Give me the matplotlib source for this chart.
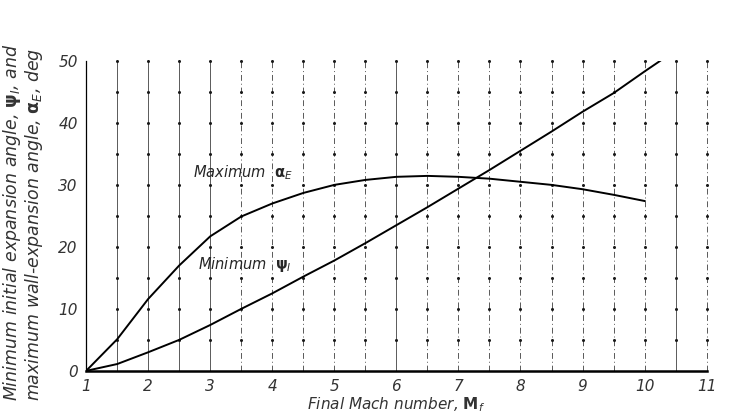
import numpy as np
from matplotlib import pyplot as plt

# Values
mach = [1.0, 1.5, 2.0, 2.5, 3.0, 3.5, 4.0, 4.5, 5.0, 5.5, 6.0, 6.5, 7.0, 7.5, 8.0, 8.5, 9.0, 9.5, 10.0]
alpha_e = [0.0, 5.1, 11.6, 17.0, 21.7, 24.9, 27.0, 28.7, 30.0, 30.8, 31.3, 31.45, 31.3, 31.0, 30.5, 30.0, 29.3, 28.4, 27.4]

mach_psi = [1.0, 1.5, 2.0, 2.5, 3.0, 3.5, 4.0, 4.5, 5.0, 5.5, 6.0, 6.5, 7.0, 7.5, 8.0, 8.5, 9.0, 9.5, 10.0, 10.25]
psi_i = [0.0, 1.1, 3.0, 5.0, 7.4, 10.0, 12.5, 15.2, 17.8, 20.6, 23.5, 26.4, 29.4, 32.4, 35.5, 38.6, 41.8, 44.8, 48.3, 50.0]

x_ticks = [1, 2, 3, 4, 5, 6, 7, 8, 9, 10, 11]
y_ticks = [0, 10, 20, 30, 40, 50]

plt.rcParams["font.family"] = ["DejaVu Sans"]
plt.rcParams["mathtext.fontset"] = "dejavusans"

fig = plt.figure(figsize=(7.3, 4.2), dpi=100)
ax = fig.add_axes([0.118, 0.117, 0.850, 0.738])
ax.set_xlim(1, 11)
ax.set_ylim(0, 50)

# vertical grid, every half unit, scanned look with mixed styles
for xv in np.arange(1.5, 11.01, 0.5):
    ls = "-" if (xv <= 3.0 or xv in (6.0, 10.5)) else (0, (6, 3, 1, 3))
    ax.axvline(xv, color="0.35", lw=0.7, ls=ls, zorder=1, clip_on=False)

# horizontal grid shown as dots at the intersections
gx, gy = np.meshgrid(np.arange(1.5, 11.01, 0.5), np.arange(5, 50.1, 5))
ax.plot(gx.ravel(), gy.ravel(), "o", ms=2.2, mew=0, color="0.1", zorder=2, clip_on=False)

ax.plot(mach, alpha_e, color="black", lw=1.4, zorder=3)
ax.plot(mach_psi, psi_i, color="black", lw=1.4, zorder=3)

ax.text(2.73, 32.0, r"Maximum  $\mathbf{\alpha}_{E}$", fontsize=10.5, style="italic",
        fontweight="light", color="0.15", va="center")
ax.text(2.8, 17.1, r"Minimum  $\mathbf{\psi}_{I}$", fontsize=10.5, style="italic",
        fontweight="light", color="0.15", va="center")

for s in ["top", "right"]:
    ax.spines[s].set_visible(False)
ax.spines["left"].set_linewidth(0.9)
ax.spines["bottom"].set_linewidth(1.8)

ax.set_xticks(x_ticks)
ax.set_yticks(y_ticks)
ax.set_xticklabels([str(v) for v in x_ticks], fontsize=11, style="italic", color="0.2")
ax.set_yticklabels([str(v) for v in y_ticks], fontsize=11, style="italic", color="0.2")
ax.tick_params(length=0, pad=6)

ax.set_xlabel(r"Final Mach number, $\mathbf{M}_{\mathit{f}}$", fontsize=11, style="italic",
              color="0.2", labelpad=1)
fig.text(0.002, 0.47,
         "Minimum initial expansion angle, $\\mathbf{\\psi}_{I}$, and\n"
         "maximum wall-expansion angle, $\\mathbf{\\alpha}_{E}$, deg",
         rotation=90, fontsize=12.5, style="italic", color="0.2",
         va="center", ha="left", linespacing=0.95, multialignment="left")

plt.savefig("out.png", dpi=100)
